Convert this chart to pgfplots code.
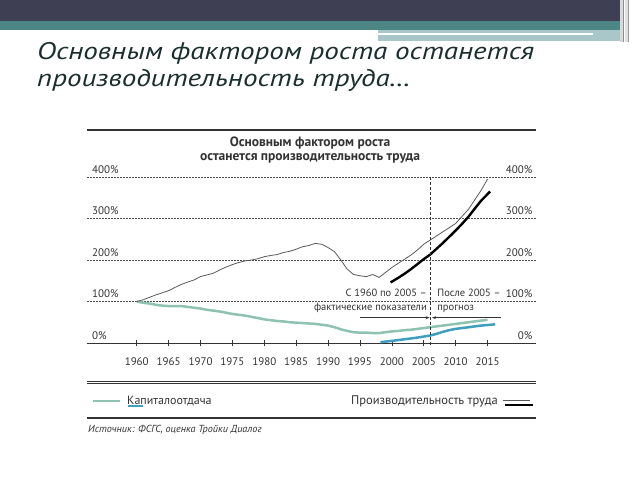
\documentclass[border=0pt]{standalone}
\usepackage{pgfplots}
\pgfplotsset{compat=1.18}
\usepackage{fontspec}
\setmainfont{PT Sans}
\usetikzlibrary{arrows.meta}
\definecolor{hdark}{HTML}{3E3F53}
\definecolor{hteal}{HTML}{4B8684}
\definecolor{hlight}{HTML}{A9C7C9}
\definecolor{ttl}{HTML}{1A2E2E}
\definecolor{capgreen}{HTML}{8EC2B1}
\definecolor{capblue}{HTML}{3E9FBF}
\definecolor{prodgray}{HTML}{5A5A5A}
\definecolor{ctext}{HTML}{333333}
\begin{document}
\begin{tikzpicture}
\useasboundingbox (0,0) rectangle (640pt,480pt);
\fill[white] (0,0) rectangle (640pt,480pt);
% slide header
\fill[hdark] (0,459pt) rectangle (620pt,480pt);
\fill[hteal] (0,450pt) rectangle (620pt,459pt);
\fill[hlight] (378pt,439pt) rectangle (622pt,450pt);
\fill[white] (378pt,445pt) rectangle (593pt,447pt);
\fill[black!15] (620pt,438pt) rectangle (623pt,480pt);
\fill[black!45] (623pt,438pt) rectangle (624pt,480pt);
\fill[black!12] (625pt,438pt) rectangle (628pt,480pt);
\fill[black!40] (628pt,438pt) rectangle (629pt,480pt);
% slide title
\node[anchor=base west, inner sep=0, text=ttl, font=\fontsize{24}{28}\selectfont\itshape, xscale=1.21] at (37pt,420pt) {Основным фактором роста останется};
\node[anchor=base west, inner sep=0, text=ttl, font=\fontsize{24}{28}\selectfont\itshape, xscale=1.21] at (37pt,393pt) {производительность труда\dots};
% chart frame
\draw[line width=1.5pt, ctext] (87pt,350pt) -- (536pt,350pt);
\node[font=\fontsize{13.5}{15}\selectfont\bfseries, text=ctext, inner sep=0] at (310pt,337pt) {Основным фактором роста};
\node[font=\fontsize{13.5}{15}\selectfont\bfseries, text=ctext, inner sep=0] at (310pt,322pt) {останется производительность труда};
\draw[line width=0.6pt, ctext] (87pt,99pt) -- (536pt,99pt);
\draw[line width=0.6pt, ctext] (87pt,96.5pt) -- (536pt,96.5pt);
\draw[line width=2.5pt, capgreen] (93pt,79pt) -- (120pt,79pt);
\node[anchor=west, inner sep=0, font=\fontsize{12}{14}\selectfont, text=ctext] at (127pt,79pt) {Капиталоотдача};
\draw[line width=1.2pt, capblue] (128pt,74pt) -- (143pt,74pt);
\node[anchor=east, inner sep=0, font=\fontsize{12.5}{14}\selectfont, text=ctext] at (498pt,79pt) {Производительность труда};
\draw[line width=0.8pt, prodgray] (503pt,80pt) -- (530pt,80pt);
\draw[line width=2.2pt, black] (505pt,75pt) -- (533pt,75pt);
\draw[line width=1.4pt, ctext] (87pt,62pt) -- (536pt,62pt);
\node[anchor=west, inner sep=0, font=\fontsize{10.2}{12}\selectfont\itshape, text=ctext] at (88pt,50pt) {Источник: ФСГС, оценка Тройки Диалог};
\begin{axis}[
  at={(87pt,137pt)}, anchor=south west,
  scale only axis, width=449pt, height=166pt,
  xmin=1952.2, xmax=2022.6, ymin=0, ymax=400,
  clip=false,
  axis x line*=bottom, axis y line*=left,
  y axis line style={draw=none},
  x axis line style={line width=0.8pt, color=ctext, -},
  xtick={1960,1965,...,2015},
  xticklabels={1960,1965,1970,1975,1980,1985,1990,1995,2000,2005,2010,2015},
  xtick align=center,
  x tick style={line width=0.6pt, color=ctext},
  major tick length=6pt,
  xticklabel style={font=\fontsize{11}{13}\selectfont, text=ctext, yshift=-8pt},
  ytick={0,100,200,300,400},
  yticklabels={0\%,100\%,200\%,300\%,400\%},
  ytick align=inside,
  y tick style={draw=none},
  yticklabel style={anchor=south west, xshift=1.5pt, font=\fontsize{11}{13}\selectfont, text=ctext},
  ymajorgrids,
  grid style={line width=0.6pt, color=black!70, dash pattern=on 2pt off 1pt},
]
\addplot[capgreen, line width=2.5pt] coordinates {
(1960,100) (1961,97) (1962,95) (1963,92) (1964,90) (1965,89) (1966,89) (1967,89)
(1968,87) (1969,85) (1970,83) (1971,80) (1972,78) (1973,76) (1974,73) (1975,70)
(1976,68) (1977,66) (1978,63) (1979,60) (1980,57) (1981,55) (1982,53) (1983,52)
(1984,50) (1985,49) (1986,48) (1987,47) (1988,46) (1989,44) (1990,42) (1991,38)
(1992,33) (1993,29) (1994,26) (1995,25) (1996,25) (1997,24) (1998,24) (1999,26)
(2000,28) (2001,29) (2002,31) (2003,32) (2004,34) (2005,36) (2006,38) (2007,40)
(2008,42) (2009,44) (2010,46) (2011,48) (2012,50) (2013,52) (2014,54) (2015,56)};
\addplot[capblue, line width=2.5pt] coordinates {
(1998.2,2) (2000,5) (2002,9) (2004,13) (2006,18) (2007,22) (2008,27) (2009,31)
(2010,34) (2011,36) (2012,38) (2013,40) (2014,42) (2016.2,45)};
\addplot[prodgray, line width=0.8pt] coordinates {
(1960,100) (1961,104) (1962,110) (1963,116) (1964,121) (1965,126) (1966,134)
(1967,141) (1968,147) (1969,152) (1970,160) (1971,164) (1972,168) (1973,176)
(1974,183) (1975,189) (1976,194) (1977,198) (1978,200) (1979,203) (1980,208)
(1981,211) (1982,213) (1983,218) (1984,221) (1985,226) (1986,232) (1987,235)
(1988,240) (1989,238) (1990,230) (1991,220) (1992,200) (1993,178) (1994,165)
(1995,162) (1996,160) (1997,165) (1998,158) (1999,170) (2000,182) (2001,192)
(2002,202) (2003,212) (2004,224) (2005,238) (2006,248) (2007,258) (2008,268)
(2009,278) (2010,288) (2011,305) (2012,322) (2013,345) (2014,368) (2015,395)};
\addplot[black, line width=2.4pt] coordinates {
(1999.8,146) (2001,157) (2002,167) (2003,178) (2004,190) (2005,202) (2006,213)
(2007,227) (2008,241) (2009,256) (2010,271) (2011,287) (2012,304) (2013,324)
(2014,343) (2015.4,365)};
\draw[line width=0.6pt, ctext, dash pattern=on 3pt off 2pt] (axis cs:2006.1,400) -- (axis cs:2006.1,-4);
\pgfplotsinvokeforeach{0,100,200,300,400}{
  \node[anchor=south east, font=\fontsize{11}{13}\selectfont, text=ctext] at (axis cs:2022.6,#1) {#1\%};
}
\node[anchor=base east, inner sep=0, font=\fontsize{10.5}{12}\selectfont, text=ctext] at (axis cs:2005.5,111) {С 1960 по 2005 –};
\node[anchor=base east, inner sep=0, font=\fontsize{10.5}{12}\selectfont, text=ctext] at (axis cs:2005.5,78) {фактические показатели};
\node[anchor=base west, inner sep=0, font=\fontsize{10.5}{12}\selectfont, text=ctext] at (axis cs:2007.1,111) {После 2005 –};
\node[anchor=base west, inner sep=0, font=\fontsize{10.5}{12}\selectfont, text=ctext] at (axis cs:2007.1,78) {прогноз};
\draw[-{Stealth[length=4pt,width=3pt]}, line width=0.5pt, ctext] (axis cs:1995,61) -- (axis cs:2005.9,61);
\draw[-{Stealth[length=4pt,width=3pt]}, line width=0.5pt, ctext] (axis cs:2017.1,61) -- (axis cs:2006.3,61);
\end{axis}
\end{tikzpicture}
\end{document}
